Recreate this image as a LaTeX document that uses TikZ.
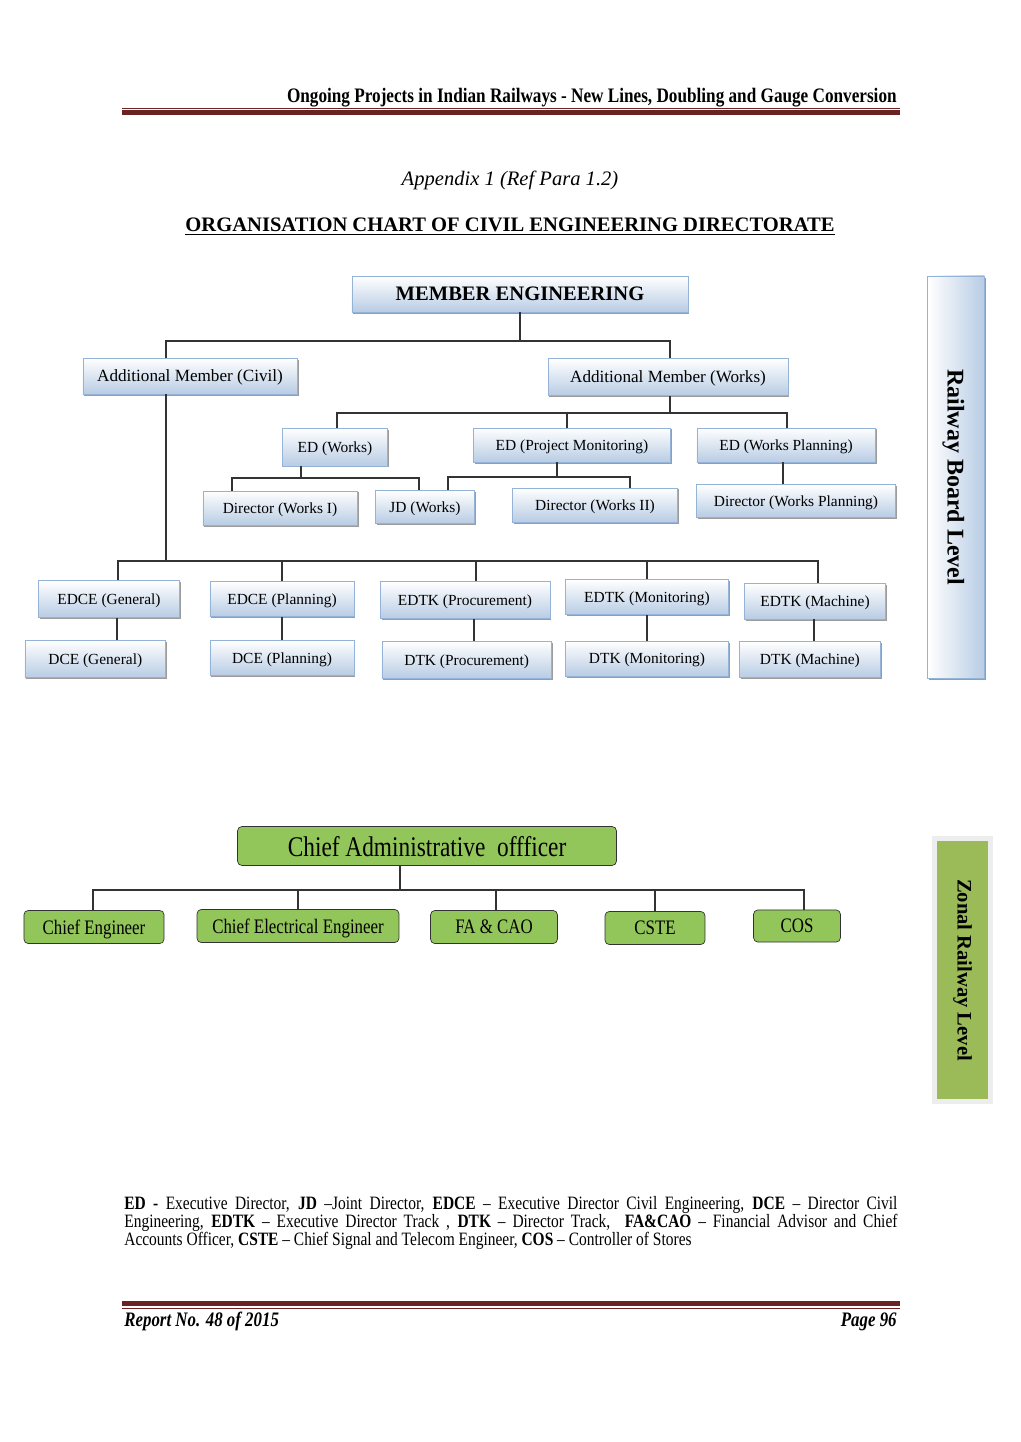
\documentclass[tikz,border=0pt]{standalone}
\usepackage{fontspec}
\setmainfont{Liberation Serif}
\newfontfamily\narrowfont[FakeStretch=0.82]{Liberation Serif}
\newfontfamily\headfont[FakeStretch=0.835]{Liberation Serif}
\usetikzlibrary{positioning,shadows}
\definecolor{boxblue}{HTML}{B8CCE4}
\definecolor{boxedge}{HTML}{95B3D7}
\definecolor{caogreen}{HTML}{92C55A}
\definecolor{zonegreen}{HTML}{9BBB59}
\definecolor{rulered}{HTML}{6B2222}

\begin{document}
\begin{tikzpicture}
[x=0.5833pt,y=-0.5833pt,
 bbox/.style={draw=boxedge,top color=white,bottom color=boxblue,drop shadow={shadow xshift=0.8pt,shadow yshift=-0.9pt,fill=black!55,opacity=0.7},inner sep=1pt,text depth=0pt,font=\fontsize{9}{10}\selectfont},
 gbox/.style={draw=black!80,fill=caogreen,rounded corners=2.5pt,inner sep=1pt,text depth=0pt,font=\narrowfont\fontsize{12}{13}\selectfont},
 link/.style={draw=black!80,line width=0.6pt}]
\fill[white] (0,0) rectangle (1020,1442);
\useasboundingbox (0,0) rectangle (1020,1442);
% page head
\node[anchor=base east,inner sep=0pt,font=\headfont\bfseries\fontsize{12}{14}\selectfont](head) at (897,103){Ongoing Projects in Indian Railways - New Lines, Doubling and Gauge Conversion};
\draw[rulered,line width=0.6pt] (122,108.5) -- (900,108.5);
\fill[rulered] (122,110.5) rectangle (900,115);
\node[font=\itshape\fontsize{12}{14}\selectfont](app) at (510,180){Appendix 1 (Ref Para 1.2)};
\node[font=\bfseries\fontsize{12}{14}\selectfont](title) at (510,227){\underline{ORGANISATION CHART OF CIVIL ENGINEERING DIRECTORATE}};
% railway board
\node[bbox,minimum width=196pt,minimum height=21pt,font=\bfseries\fontsize{12}{14}\selectfont](me) at (520,294){MEMBER ENGINEERING};
\node[bbox,minimum width=125pt,minimum height=21pt,font=\fontsize{10}{12}\selectfont](amc) at (190,376){Additional Member (Civil)};
\node[bbox,minimum width=140pt,minimum height=21.6pt,font=\fontsize{10}{12}\selectfont](amw) at (668,377){Additional Member (Works)};
\node[bbox,minimum width=61pt,minimum height=22pt](edw) at (335,447){ED (Works)};
\node[bbox,minimum width=115pt,minimum height=20pt](edpm) at (572,445){ED (Project Monitoring)};
\node[bbox,minimum width=104pt,minimum height=20pt](edwp) at (786,445){ED (Works Planning)};
\node[bbox,minimum width=90pt,minimum height=20pt](dw1) at (280,508){Director (Works I)};
\node[bbox,minimum width=58pt,minimum height=19pt](jdw) at (425,507){JD (Works)};
\node[bbox,minimum width=96pt,minimum height=20pt](dw2) at (595,505){Director (Works II)};
\node[bbox,minimum width=116pt,minimum height=19pt](dwp) at (796,501){Director (Works Planning)};
\node[bbox,minimum width=82pt,minimum height=21.5pt](edceg) at (109,599){EDCE (General)};
\node[bbox,minimum width=84pt,minimum height=20.5pt](edcep) at (282,599){EDCE (Planning)};
\node[bbox,minimum width=99pt,minimum height=21.5pt](edtkp) at (465,600){EDTK (Procurement)};
\node[bbox,minimum width=95pt,minimum height=20.5pt](edtkm) at (647,597){EDTK (Monitoring)};
\node[bbox,minimum width=82pt,minimum height=21pt](edtkx) at (815,601){EDTK (Machine)};
\node[bbox,minimum width=82pt,minimum height=22pt,below=12.8pt of edceg,xshift=-8pt](dceg){DCE (General)};
\node[bbox,minimum width=84pt,minimum height=20.5pt,below=13.4pt of edcep](dcep){DCE (Planning)};
\node[bbox,minimum width=99pt,minimum height=21.5pt,below=13pt of edtkp,xshift=1pt](dtkp){DTK (Procurement)};
\node[bbox,minimum width=95pt,minimum height=20.5pt,below=15pt of edtkm](dtkm){DTK (Monitoring)};
\node[bbox,minimum width=82pt,minimum height=21pt,below=12.8pt of edtkx,xshift=-3pt](dtkx){DTK (Machine)};
\node[bbox,rotate=-90,minimum width=234.5pt,minimum height=33pt,left color=white,right color=boxblue,font=\bfseries\fontsize{14}{16}\selectfont](rbl) at (956,477){Railway Board Level};
\coordinate (jme) at (520,341);
\draw[link] (me) -- (jme);
\draw[link] (amc.north -| 166,0) |- (jme) -| (amw.north -| 670,0);
\coordinate (jamw) at (670,413);
\draw[link] (amw.south -| jamw) -- (jamw);
\draw[link] (edw.north -| 337,0) |- (jamw) -| (edwp.north -| 787,0);
\draw[link] (edpm.north -| 567,0) -- (jamw -| 567,0);
\coordinate (jedw) at (301,478);
\draw[link] (edw.south -| jedw) -- (jedw);
\draw[link] (dw1.north -| 232,0) |- (jedw) -| (jdw.north -| 419,0);
\coordinate (jedpm) at (557,477);
\draw[link] (edpm.south -| jedpm) -- (jedpm);
\draw[link] (jdw.north -| 448,0) |- (jedpm) -| (dw2.north -| 630,0);
\draw[link] (edwp.south -| 783,0) -- (dwp.north -| 783,0);
\coordinate (jamc) at (166,561);
\draw[link] (amc.south -| jamc) -- (jamc);
\draw[link] (edceg.north -| 118,0) |- (jamc) -| (edtkx.north -| 818,0);
\foreach \n/\x in {edcep/282,edtkp/476,edtkm/647} \draw[link] (\n.north -| \x,0) -- (jamc -| \x,0);
\foreach \a/\b/\x in {edceg/dceg/117,edcep/dcep/282,edtkp/dtkp/474,edtkm/dtkm/647,edtkx/dtkx/814} \draw[link] (\a.south -| \x,0) -- (\b.north -| \x,0);
% zonal railway
\node[gbox,minimum width=221pt,minimum height=22.7pt,font=\narrowfont\fontsize{16.6}{18}\selectfont](cao) at (427,846){Chief Administrative\ \ offficer};
\node[gbox,minimum width=81.7pt,minimum height=19.3pt](ce) at (94,927){Chief Engineer};
\node[gbox,minimum width=117.8pt,minimum height=19.3pt](cee) at (298,926){Chief Electrical Engineer};
\node[gbox,minimum width=74pt,minimum height=19.3pt](fa) at (494,927){FA \& CAO};
\node[gbox,minimum width=58.3pt,minimum height=19.3pt](cste) at (655,928){CSTE};
\node[gbox,minimum width=50.7pt,minimum height=18.7pt](cos) at (797,926){COS};
\node[rotate=-90,draw=black!7,line width=3pt,fill=zonegreen,minimum width=153.4pt,minimum height=32.7pt,drop shadow={shadow xshift=0.8pt,shadow yshift=-0.9pt,fill=black!40,opacity=0.6},font=\bfseries\fontsize{12}{14}\selectfont](zrl) at (962.5,970){Zonal Railway Level};
\coordinate (jcao) at (400,890);
\draw[link] (cao.south -| jcao) -- (jcao);
\draw[link] (ce.north -| 93,0) |- (jcao) -| (cos.north -| 804,0);
\foreach \n/\x in {cee/298,fa/496,cste/655} \draw[link] (\n.north -| \x,0) -- (jcao -| \x,0);
% legend and foot
\node[anchor=north west,inner sep=0pt,text width=451pt,align=justify,font=\narrowfont\fontsize{11}{10.5}\selectfont](legend) at (124,1196){\textbf{ED -} Executive Director, \textbf{JD} –Joint Director, \textbf{EDCE} – Executive Director Civil Engineering, \textbf{DCE} – Director Civil\linebreak Engineering, \textbf{EDTK} – Executive Director Track , \textbf{DTK} – Director Track, \ \textbf{FA\&CAO} – Financial Advisor and Chief\linebreak Accounts Officer, \textbf{CSTE} – Chief Signal and Telecom Engineer, \textbf{COS} – Controller of Stores};
\fill[rulered] (122,1301) rectangle (900,1305.5);
\draw[rulered,line width=0.6pt] (122,1308) -- (900,1308);
\node[anchor=base west,inner sep=0pt,font=\narrowfont\bfseries\itshape\fontsize{12}{14}\selectfont](rep) at (124,1326){Report No. 48 of 2015};
\node[anchor=base east,inner sep=0pt,font=\narrowfont\bfseries\itshape\fontsize{12}{14}\selectfont](page) at (897,1326){Page 96};
\end{tikzpicture}
\end{document}
